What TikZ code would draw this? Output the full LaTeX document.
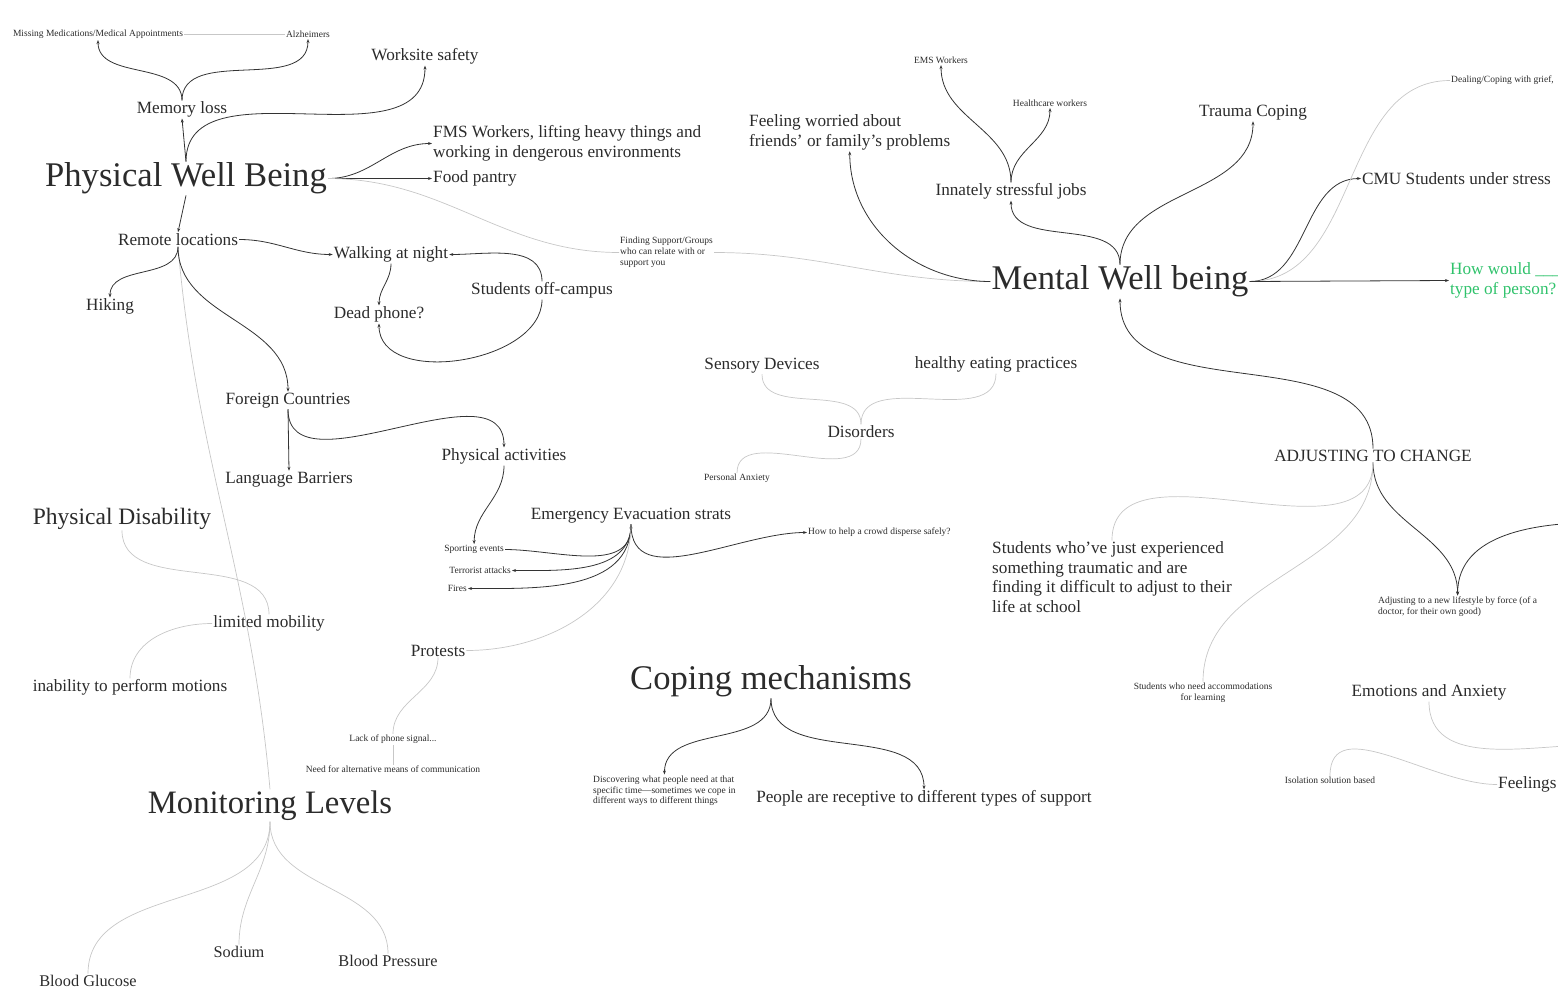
\documentclass[tikz,border=0pt]{standalone}
\usepackage{fontspec}
\setmainfont{Liberation Serif}
\usetikzlibrary{arrows.meta}
\definecolor{inkgrey}{HTML}{2B2B2B}
\definecolor{askgreen}{HTML}{2FC26B}

\begin{document}
\begin{tikzpicture}[x=1pt,y=-1pt,
 every node/.style={inner sep=1pt,text=inkgrey},
 hub/.style={font=\fontsize{34.6}{38}\selectfont},
 subhub/.style={font=\fontsize{23.5}{26}\selectfont},
 topic/.style={font=\fontsize{17.2}{19.5}\selectfont},
 level/.style={font=\fontsize{16.3}{19}\selectfont},
 note/.style={font=\fontsize{9.5}{10.8}\selectfont},
 link/.style={-{Stealth[length=4pt,width=3pt]},draw=black!80,line width=0.8pt},
 faint/.style={draw=black!22,line width=0.7pt}]
\useasboundingbox (0,0) rectangle (1558,1004);
\clip (0,0) rectangle (1558,1004);
\begin{scope}[yshift=-2.5pt]
\node[hub] (pwb) at (186,176) {Physical Well Being};
\node[hub] (mwb) at (1120,279) {Mental Well being};
\node[hub] (cm) at (771,679) {Coping mechanisms};
\node[hub,font=\fontsize{32.7}{36}\selectfont] (ml) at (270,803) {Monitoring Levels};
\node[subhub] (pd) at (122,516) {Physical Disability};
\node[topic] (mem) at (182,107) {Memory loss};
\node[note] (mm) at (98,32) {Missing Medications/Medical Appointments};
\node[note] (alz) at (308,32) {Alzheimers};
\node[topic] (ws) at (425,54) {Worksite safety};
\node[topic,align=left,anchor=west] (fms) at (432,141) {FMS Workers, lifting heavy things and\\working in dengerous environments};
\node[topic,anchor=west] (fp) at (432,176) {Food pantry};
\node[note,align=left,anchor=west] (fs) at (619,250) {Finding Support/Groups\\who can relate with or\\support you};
\node[topic] (rl) at (178,237) {Remote locations};
\node[topic] (wn) at (391,252) {Walking at night};
\node[topic] (hk) at (110,304) {Hiking};
\node[topic] (dp) at (379,312) {Dead phone?};
\node[topic] (so) at (542,288) {Students off-campus};
\node[topic] (fc) at (288,398) {Foreign Countries};
\node[topic] (lb) at (289,477) {Language Barriers};
\node[topic] (pa) at (504,454) {Physical activities};
\node[topic] (ee) at (631,513) {Emergency Evacuation strats};
\node[note,anchor=east] (se) at (505,547) {Sporting events};
\node[note,anchor=east] (ta) at (512,568) {Terrorist attacks};
\node[note,anchor=east] (fi) at (468,586) {Fires};
\node[note,anchor=west] (cr) at (807,530) {How to help a crowd disperse safely?};
\node[topic] (lm) at (269,621) {limited mobility};
\node[topic] (ip) at (130,685) {inability to perform motions};
\node[topic] (pr) at (438,648) {Protests};
\node[note] (lp) at (393,737) {Lack of phone signal...};
\node[note] (na) at (393,767) {Need for alternative means of communication};
\node[topic] (sd) at (762,363) {Sensory Devices};
\node[topic] (he) at (996,362) {healthy eating practices};
\node[topic] (dis) at (861,429) {Disorders};
\node[note] (pan) at (737,476) {Personal Anxiety};
\node[note,align=left,anchor=north west] (dw) at (592,772) {Discovering what people need at that\\specific time—sometimes we cope in\\different ways to different things};
\node[topic] (rcv) at (924,796) {People are receptive to different types of support};
\node[level] (bg) at (88,978) {Blood Glucose};
\node[level] (sod) at (239,949) {Sodium};
\node[level] (bp) at (388,958) {Blood Pressure};
\node[topic,align=left,anchor=west] (fw) at (748,130) {Feeling worried about\\friends' or family's problems};
\node[topic] (isj) at (1011,189) {Innately stressful jobs};
\node[note] (ems) at (941,58) {EMS Workers};
\node[note] (hcw) at (1050,101) {Healthcare workers};
\node[topic] (tc) at (1253,110) {Trauma Coping};
\node[note,anchor=west] (dg) at (1450,78) {Dealing/Coping with grief,};
\node[topic,anchor=west] (cmu) at (1361,176) {CMU Students under stress};
\node[topic,align=left,anchor=west,text=askgreen] (hw) at (1449,278) {How would \_\_\_\_\_\\type of person?};
\node[topic] (adj) at (1373,453) {ADJUSTING TO CHANGE};
\node[topic,align=left,anchor=west] (sj) at (991,574.5) {Students who've just experienced\\something traumatic and are\\finding it difficult to adjust to their\\life at school};
\node[note,align=center] (sn) at (1203,690) {Students who need accommodations\\for learning};
\node[note,align=left,anchor=west] (al) at (1377,604) {Adjusting to a new lifestyle by force (of a\\doctor, for their own good)};
\node[topic] (ea) at (1429,690) {Emotions and Anxiety};
\node[note] (iso) at (1330,778) {Isolation solution based};
\node[topic,anchor=west] (fe) at (1497,782) {Feelings};
\coordinate (ofa) at (1600,520);
\coordinate (ofb) at (1600,742);
\draw[link] (mem.north) to[out=90,in=-90] (mm.south);
\draw[link] (mem.north) to[out=90,in=-90] (alz.south);
\draw[faint] (mm.east) -- (alz.west);
\draw[link] (pwb.north) -- (mem.south);
\draw[link] (pwb.north) to[out=90,in=-90] (ws.south);
\draw[link] (pwb.east) to[out=0,in=180] (fms.west);
\draw[link] (pwb.east) -- (fp.west);
\draw[faint] (pwb.east) to[out=0,in=180] (fs.west);
\draw[faint] (fs.east) to[out=0,in=180] (mwb.west);
\draw[link] (pwb.south) -- (rl.north);
\draw[faint] (rl.south) to[out=-85,in=95] (ml.north);
\draw[link] (rl.east) to[out=0,in=180] (wn.west);
\draw[link] (rl.south) to[out=-90,in=90] (hk.north);
\draw[link] (rl.south) to[out=-90,in=90] (fc.north);
\draw[link] (wn.south) to[out=-90,in=90] (dp.north);
\draw[link] (so.north) to[out=90,in=0] (wn.east);
\draw[link] (so.south) to[out=-90,in=-90] (dp.south);
\draw[link] (fc.south) -- (lb.north);
\draw[link] (fc.south) to[out=-90,in=90] (pa.north);
\draw[link] (pa.south) to[out=-90,in=90] (se.north);
\draw[link] (se.east) to[out=0,in=-90] (ee.south);
\draw[link] (ee.south) to[out=-90,in=0] (ta.east);
\draw[link] (ee.south) to[out=-90,in=0] (fi.east);
\draw[link] (ee.south) to[out=-90,in=180] (cr.west);
\draw[faint] (ee.south) to[out=-90,in=0] (pr.east);
\draw[faint] (pr.south) to[out=-90,in=90] (lp.north);
\draw[faint] (lp.south) -- (na.north);
\draw[faint] (pd.south) to[out=-90,in=90] (lm.north);
\draw[faint] (lm.west) to[out=180,in=90] (ip.north);
\draw[faint] (sd.south) to[out=-90,in=90] (dis.north);
\draw[faint] (he.south) to[out=-90,in=90] (dis.north);
\draw[faint] (dis.south) to[out=-90,in=90] (pan.north);
\draw[link] (cm.south) to[out=-90,in=90] (dw.north);
\draw[link] (cm.south) to[out=-90,in=90] (rcv.north);
\draw[faint] (ml.south) to[out=-90,in=90] (bg.north);
\draw[faint] (ml.south) to[out=-90,in=90] (sod.north);
\draw[faint] (ml.south) to[out=-90,in=90] (bp.north);
\draw[link] (mwb.west) to[out=180,in=-90] (fw.south);
\draw[link] (mwb.north) to[out=90,in=-90] (isj.south);
\draw[link] (isj.north) to[out=90,in=-90] (ems.south);
\draw[link] (isj.north) to[out=90,in=-90] (hcw.south);
\draw[link] (mwb.north) to[out=90,in=-90] (tc.south);
\draw[link] (mwb.east) to[out=0,in=180] (cmu.west);
\draw[faint] (mwb.east) to[out=0,in=180] (dg.west);
\draw[link] (mwb.east) -- (hw.west);
\draw[link,{Stealth[length=4pt,width=3pt]}-] (mwb.south) to[out=-90,in=90] (adj.north);
\draw[link] (adj.south) to[out=-90,in=90] (al.north);
\draw[link] (ofa) to[out=180,in=90] (al.north);
\draw[faint] (adj.south) to[out=-90,in=90] (sj.north);
\draw[faint] (adj.south) to[out=-90,in=90] (sn.north);
\draw[faint] (ea.south) to[out=-90,in=180] (ofb);
\draw[faint] (iso.north) to[out=90,in=180] (fe.west);
\end{scope}
\end{tikzpicture}
\end{document}
